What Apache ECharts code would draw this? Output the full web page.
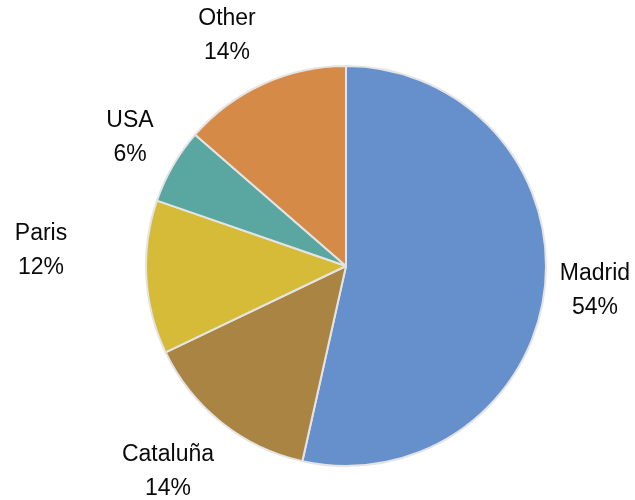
<!DOCTYPE html>
<html>
<head>
<meta charset="utf-8">
<script src="https://cdn.jsdelivr.net/npm/echarts@6/dist/echarts.min.js"></script>
<style>
  html, body { margin: 0; padding: 0; background: #fff; }
  #chart { width: 635px; height: 500px; }
</style>
</head>
<body>
<div id="chart"></div>
<script>
// ======================
// DATOS
// ======================
const categories = ["Madrid", "Cataluña", "Paris", "USA", "Other"];
const shares = [53.5, 14.4, 12.4, 6.1, 13.6];   // % (labels show them rounded)

// ======================
// ESTILO
// ======================
const sliceColors = ["#6690cc", "#aa8442", "#d6bb38", "#5aa6a0", "#d68a48"];
const PIE_CENTER = [346, 266];
const PIE_RADIUS = 200;
// label box centre, offset from pie centre (placed by hand like the original)
const labelOffsets = [[249, 25], [-178, 206], [-305, -15], [-216, -128], [-119, -230]];

// ======================
// GRÁFICO
// ======================
const chart = echarts.init(document.getElementById("chart"));
chart.setOption({
    backgroundColor: "#ffffff",
    animation: false,
    textStyle: { fontFamily: "Liberation Sans, Arial, sans-serif" },
    series: [{
        type: "pie",
        center: PIE_CENTER,
        radius: PIE_RADIUS,
        startAngle: 90,
        clockwise: true,
        avoidLabelOverlap: false,
        itemStyle: {
            borderColor: "#e4e4e4",
            borderWidth: 2
        },
        label: {
            show: true,
            position: "outside",
            formatter: p => p.name + "\n" + Math.round(p.percent) + "%",
            color: "#0a0a0a",
            fontSize: 23,
            lineHeight: 34
        },
        labelLine: { show: false },
        labelLayout: p => ({
            x: PIE_CENTER[0] + labelOffsets[p.dataIndex][0],
            y: PIE_CENTER[1] + labelOffsets[p.dataIndex][1],
            align: "center",
            verticalAlign: "middle"
        }),
        data: categories.map((c, i) => ({
            name: c,
            value: shares[i],
            itemStyle: { color: sliceColors[i] }
        }))
    }]
});
</script>
</body>
</html>
